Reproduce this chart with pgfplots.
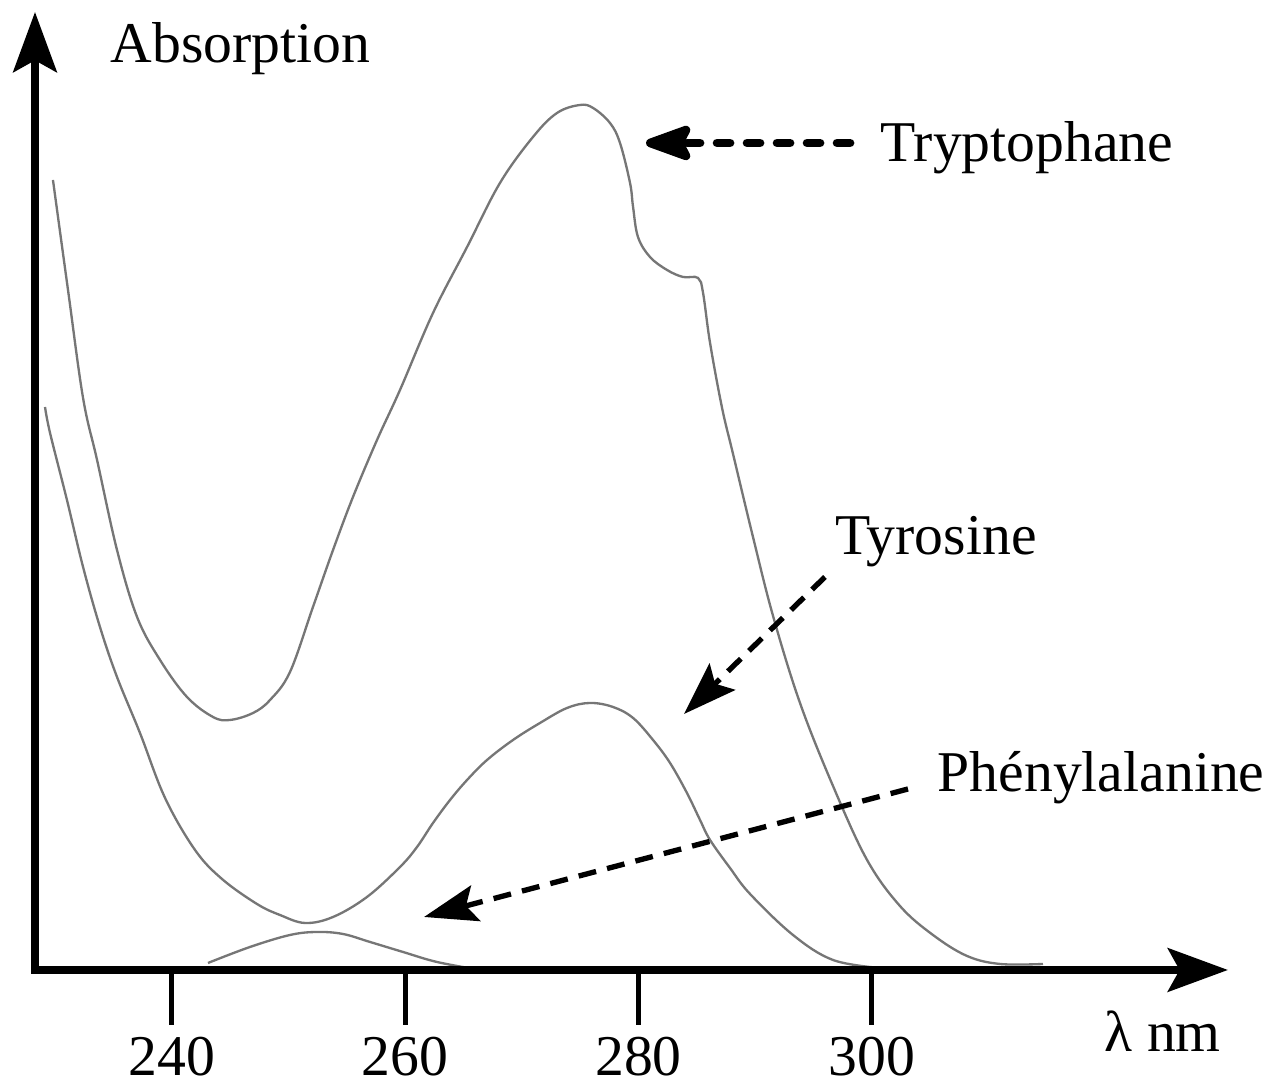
\documentclass[border=0pt]{standalone}
\usepackage{pgfplots}
\pgfplotsset{compat=1.18}
\usepackage{pgfplotstable}
\usepackage{fontspec}
\setmainfont{Liberation Serif}
\usetikzlibrary{arrows.meta}
\definecolor{curve}{RGB}{118,118,118}
\newcommand{\lbl}{\fontsize{17.3}{20}\selectfont}

\pgfplotstableread{
nm A
229.81 7.90
231.10 6.80
232.39 5.72
233.59 5.10
235.30 4.20
237.02 3.53
238.99 3.10
241.30 2.73
243.53 2.53
244.99 2.50
246.96 2.57
248.42 2.70
250.13 2.98
252.10 3.63
253.82 4.20
255.53 4.73
257.59 5.30
259.56 5.80
262.39 6.57
265.31 7.23
268.13 7.87
270.96 8.33
273.02 8.57
274.99 8.65
276.11 8.62
277.56 8.47
278.42 8.27
279.28 7.87
279.54 7.63
279.96 7.33
280.99 7.13
282.45 7.00
283.82 6.93
285.11 6.92
285.54 6.77
286.14 6.27
287.17 5.62
288.11 5.16
289.82 4.33
291.54 3.54
293.85 2.67
296.68 1.84
299.60 1.10
302.42 0.64
305.25 0.35
308.17 0.14
311.00 0.06
314.68 0.06
}\trp

\pgfplotstableread{
nm A
229.13 5.63
229.56 5.37
231.01 4.70
232.39 4.03
233.84 3.43
235.30 2.93
237.27 2.37
239.42 1.72
241.99 1.20
244.30 0.91
247.30 0.66
249.27 0.55
251.42 0.47
253.82 0.53
256.73 0.73
259.56 1.03
261.02 1.23
262.39 1.47
263.85 1.70
265.31 1.90
267.02 2.10
269.25 2.30
271.56 2.47
273.88 2.62
275.85 2.67
277.82 2.63
279.54 2.52
281.25 2.30
282.71 2.07
284.16 1.77
285.28 1.50
286.14 1.30
287.85 1.02
289.57 0.76
293.25 0.35
296.68 0.10
300.71 0.02
}\tyr

\pgfplotstableread{
nm A
243.10 0.07
246.70 0.23
250.13 0.35
252.45 0.38
254.67 0.36
256.99 0.28
259.82 0.18
262.73 0.08
266.42 0.00
}\phe

\begin{document}
\begin{tikzpicture}
\useasboundingbox (-10.5pt,-34.5pt) rectangle (370.5pt,291pt);
\begin{axis}[
  at={(0,0)}, anchor=south west,
  scale only axis, width=357.9pt, height=287.4pt,
  xmin=228.27, xmax=330.54, ymin=0, ymax=9.58,
  axis lines=left, axis line style={draw=none},
  clip=false,
  xtick={240,260,280,300}, ytick=\empty,
  tick align=outside, major tick length=16.5pt,
  xtick style={line width=1.5pt, black},
  /pgf/number format/assume math mode=true,
  xticklabel style={font=\lbl},
]
\addplot[curve, line width=0.7pt, smooth, tension=0.6] table[x=nm,y=A] {\trp};
\addplot[curve, line width=0.7pt, smooth, tension=0.6] table[x=nm,y=A] {\tyr};
\addplot[curve, line width=0.7pt, smooth, tension=0.6] table[x=nm,y=A] {\phe};

\draw[line width=2.5pt, {Stealth[length=18pt,width=13pt,inset=3.5pt]}-{Stealth[length=18pt,width=13pt,inset=3.5pt]}]
  (rel axis cs:0,1) -- (rel axis cs:0,0) -- (rel axis cs:1,0);

\draw[line width=2.6pt, line cap=round, dash pattern=on 3.9pt off 5.1pt,
  -{Stealth[length=17pt,width=12pt,inset=3pt,round=false]}]
  (axis cs:298.14,8.27) -- (axis cs:280.65,8.27);
\draw[line width=1.6pt, dash pattern=on 5.4pt off 3.4pt,
  -{Stealth[length=16pt,width=11pt,inset=3pt]}]
  (axis cs:295.99,3.93) -- (axis cs:283.91,2.56);
\draw[line width=1.6pt, dash pattern=on 5.4pt off 3.4pt,
  -{Stealth[length=16pt,width=11pt,inset=3pt]}]
  (axis cs:303.11,1.81) -- (axis cs:261.62,0.53);

\node[anchor=base west, inner sep=0pt, font=\lbl] at (axis cs:234.70,9.07) {Absorption};
\node[anchor=base west, inner sep=0pt, font=\lbl] at (axis cs:300.71,8.08) {Tryptophane};
\node[anchor=base west, inner sep=0pt, font=\lbl] at (axis cs:296.85,4.15) {Tyrosine};
\node[anchor=base west, inner sep=0pt, font=\lbl] at (axis cs:305.60,1.78) {Phénylalanine};
\node[anchor=base west, inner sep=0pt, font=\lbl] at (axis cs:319.91,-0.82) {λ nm};
\end{axis}
\end{tikzpicture}
\end{document}
